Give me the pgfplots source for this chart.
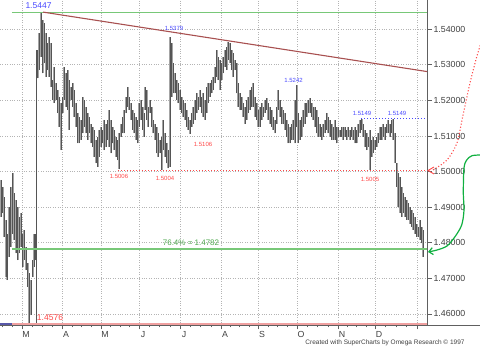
\documentclass[border=0pt]{standalone}
\usepackage{fontspec}
\setmainfont{Liberation Sans}
\usepackage{pgfplots}
\pgfplotsset{compat=1.18}
\usepackage{pgfplotstable}
\usetikzlibrary{arrows.meta}
\definecolor{bardark}{HTML}{555555}
\definecolor{barlight}{HTML}{A4A4A4}
\definecolor{gridgray}{HTML}{B4B4B4}
\definecolor{axgray}{HTML}{606060}
\definecolor{labgray}{HTML}{404040}
\definecolor{lgreen}{HTML}{78C878}
\definecolor{pinkline}{HTML}{F0A0A0}
\definecolor{trend}{HTML}{A85050}
\definecolor{lblue}{HTML}{4848FF}
\definecolor{bluelow}{HTML}{5858A8}
\definecolor{lred}{HTML}{FF4848}
\definecolor{tgreen}{HTML}{50A850}
\definecolor{agreen}{HTML}{10B040}
\pgfplotstableread{
x lo hi
1 1.4873 1.4976
2.7 1.4883 1.4957
4 1.4817 1.4929
6 1.4705 1.4864
7.3 1.4695 1.4826
9 1.4761 1.4901
10.7 1.4789 1.4957
12.7 1.4826 1.4995
14.3 1.4808 1.4939
16 1.4770 1.4920
17.7 1.4751 1.4901
19.3 1.4770 1.4873
21 1.4789 1.4883
22.7 1.4733 1.4826
24.3 1.4751 1.4836
26 1.4723 1.4789
27.7 1.4677 1.4742
29.3 1.4573 1.4714
31 1.4597 1.4695
32.7 1.4705 1.4751
34.3 1.4733 1.4826
35.5 1.4751 1.4826
37.7 1.5262 1.5342
39.3 1.5285 1.5388
41 1.5323 1.5446
42.7 1.5276 1.5426
44.3 1.5304 1.5416
46 1.5267 1.5388
47.7 1.5285 1.5360
49.3 1.5267 1.5379
51 1.5238 1.5360
52.7 1.5201 1.5257
54.3 1.5192 1.5295
56 1.5201 1.5248
57.7 1.5164 1.5229
59.3 1.5126 1.5210
61 1.5060 1.5192
62.7 1.5164 1.5210
64.3 1.5201 1.5295
66 1.5182 1.5276
67.7 1.5173 1.5285
69.3 1.5117 1.5257
71 1.5201 1.5238
72.7 1.5182 1.5248
74.3 1.5154 1.5229
76 1.5126 1.5192
77.7 1.5079 1.5164
79.3 1.5079 1.5154
81 1.5089 1.5145
82.7 1.5107 1.5210
84.3 1.5126 1.5201
86 1.5107 1.5182
87.7 1.5089 1.5164
89.3 1.5107 1.5154
91 1.5079 1.5135
92.7 1.5070 1.5126
94.3 1.5042 1.5117
96 1.5023 1.5089
97.7 1.5014 1.5098
99.3 1.5042 1.5117
101 1.5070 1.5126
102.7 1.5079 1.5117
104.3 1.5060 1.5145
106 1.5070 1.5135
107.7 1.5089 1.5145
109.3 1.5070 1.5173
111 1.5051 1.5145
112.7 1.5079 1.5126
114.3 1.5060 1.5117
116 1.5042 1.5098
117.7 1.5032 1.5089
119.3 1.5006 1.5107
121 1.5098 1.5135
122.7 1.5107 1.5154
124.3 1.5107 1.5173
126 1.5164 1.5210
127.7 1.5182 1.5238
129.3 1.5173 1.5210
131 1.5145 1.5192
132.7 1.5117 1.5173
134.3 1.5107 1.5164
136 1.5089 1.5154
137.7 1.5079 1.5145
139.3 1.5126 1.5192
141 1.5145 1.5201
142.7 1.5117 1.5182
144.3 1.5098 1.5164
145 1.5173 1.5238
146.7 1.5145 1.5229
148.3 1.5126 1.5182
150 1.5164 1.5201
151.7 1.5126 1.5182
153.3 1.5107 1.5145
155 1.5089 1.5135
156.7 1.5051 1.5126
158.3 1.5042 1.5107
160 1.5051 1.5089
161.7 1.5004 1.5098
163.3 1.5060 1.5145
165 1.5042 1.5107
166.7 1.5023 1.5079
168.3 1.5009 1.5060
170 1.5014 1.5379
171.7 1.5210 1.5360
173.3 1.5220 1.5304
175 1.5220 1.5276
176.7 1.5201 1.5257
178.3 1.5192 1.5248
180 1.5173 1.5229
181.7 1.5164 1.5210
183.3 1.5154 1.5201
185 1.5145 1.5192
186.7 1.5126 1.5173
188.3 1.5117 1.5154
190 1.5106 1.5145
191.7 1.5126 1.5164
193.3 1.5135 1.5182
195 1.5145 1.5201
196.7 1.5164 1.5220
198.3 1.5173 1.5210
200 1.5182 1.5229
201.7 1.5164 1.5210
203.3 1.5154 1.5220
205 1.5145 1.5201
206.7 1.5164 1.5238
208.3 1.5192 1.5248
210 1.5210 1.5248
211.7 1.5220 1.5257
213.3 1.5229 1.5267
215 1.5248 1.5295
216.7 1.5267 1.5342
218.3 1.5257 1.5323
220 1.5229 1.5313
221.7 1.5257 1.5304
223.3 1.5276 1.5323
225 1.5295 1.5342
226.7 1.5285 1.5351
228.3 1.5313 1.5364
230 1.5304 1.5360
231.7 1.5285 1.5342
233.3 1.5267 1.5332
235 1.5285 1.5313
236.7 1.5220 1.5304
238.3 1.5182 1.5248
240 1.5173 1.5220
241.7 1.5173 1.5210
243.3 1.5154 1.5192
245 1.5135 1.5182
246.7 1.5145 1.5201
248.3 1.5164 1.5210
250 1.5173 1.5229
251.7 1.5182 1.5238
253.3 1.5182 1.5248
255 1.5154 1.5210
256.7 1.5145 1.5192
258.3 1.5126 1.5173
260 1.5126 1.5182
261.7 1.5145 1.5192
263.3 1.5154 1.5182
265 1.5164 1.5201
266.7 1.5173 1.5206
268.3 1.5145 1.5192
270 1.5135 1.5182
271.7 1.5126 1.5173
273.3 1.5117 1.5154
275 1.5107 1.5145
276.7 1.5135 1.5182
278.3 1.5173 1.5229
280 1.5154 1.5201
281.7 1.5135 1.5182
283.3 1.5135 1.5173
285 1.5117 1.5164
286.7 1.5098 1.5145
288.3 1.5079 1.5135
290 1.5079 1.5126
291.7 1.5089 1.5135
293.3 1.5089 1.5145
295 1.5079 1.5201
296.7 1.5126 1.5243
298.3 1.5079 1.5164
300 1.5089 1.5145
301.7 1.5098 1.5154
303.3 1.5126 1.5173
305 1.5135 1.5192
306.7 1.5154 1.5192
308.3 1.5164 1.5201
310 1.5164 1.5206
311.7 1.5154 1.5192
313.3 1.5145 1.5182
315 1.5126 1.5182
316.7 1.5107 1.5173
318.3 1.5098 1.5154
320 1.5098 1.5135
321.7 1.5089 1.5126
323.3 1.5098 1.5135
325 1.5107 1.5145
326.7 1.5117 1.5164
328.3 1.5107 1.5154
330 1.5098 1.5145
331.7 1.5089 1.5135
333.3 1.5089 1.5126
335 1.5089 1.5145
336.7 1.5079 1.5126
338.3 1.5098 1.5126
340 1.5098 1.5117
341.7 1.5098 1.5126
343.3 1.5089 1.5126
345 1.5098 1.5126
346.7 1.5089 1.5117
348.3 1.5098 1.5126
350 1.5089 1.5117
351.7 1.5098 1.5126
353.3 1.5089 1.5117
355 1.5079 1.5126
356.7 1.5079 1.5117
358.3 1.5098 1.5135
360 1.5107 1.5145
361.7 1.5117 1.5149
363.3 1.5098 1.5135
365 1.5070 1.5117
366.7 1.5060 1.5107
368.3 1.5070 1.5098
370 1.5005 1.5117
371.7 1.5042 1.5089
373.3 1.5051 1.5098
375 1.5060 1.5089
376.7 1.5070 1.5098
378.3 1.5079 1.5107
380 1.5089 1.5126
381.7 1.5089 1.5126
383.3 1.5098 1.5135
385 1.5089 1.5126
386.7 1.5107 1.5135
388.3 1.5107 1.5145
390 1.5098 1.5135
391.7 1.5107 1.5145
393.3 1.5089 1.5149
395 1.5023 1.5107
396.7 1.4957 1.5023
398.3 1.4901 1.4995
400 1.4883 1.4986
401.7 1.4873 1.4957
403.3 1.4883 1.4939
405 1.4873 1.4929
406.7 1.4864 1.4920
408.3 1.4864 1.4911
410 1.4854 1.4901
411.7 1.4845 1.4892
413.3 1.4836 1.4883
415 1.4826 1.4873
416.7 1.4817 1.4854
418.3 1.4817 1.4845
420 1.4808 1.4864
421.7 1.4798 1.4845
423.3 1.4761 1.4836
}\bars
\begin{document}
\begin{tikzpicture}
\useasboundingbox (0pt,0pt) rectangle (480pt,351pt);
\begin{axis}[
  at={(0pt,26pt)}, anchor=south west,
  scale only axis, width=427pt, height=325pt,
  xmin=0, xmax=427, ymin=1.4569, ymax=1.5482,
  axis x line*=bottom, axis y line*=right,
  axis line style={draw=axgray, line width=0.8pt},
  tick align=outside,
  major tick length=4.5pt, minor tick length=2.5pt,
  tick style={draw=axgray, line width=0.6pt},
  xtick={22,62,101,139,180,221,258,297,338,375,417},
  xticklabels={M,A,M,J,J,A,S,O,N,D,{}},
  minor xtick={2,12,32,42,52,72,81.5,91,110.5,120,129.5,149,159.5,170,190,200.5,211,230,239.5,249,268,277.5,287,307,317.5,328,347,356.5,366,385.5,396,406.5},
  ytick={1.46,1.47,1.48,1.49,1.50,1.51,1.52,1.53,1.54},
  scaled y ticks=false,
  yticklabel style={xshift=-1.5pt, /pgf/number format/fixed, /pgf/number format/fixed zerofill, /pgf/number format/precision=5, /pgf/number format/assume math mode=true},
  ticklabel style={font=\fontsize{8.8}{9}\selectfont, text=labgray},
  xticklabel style={xshift=4pt, yshift=2pt},
  grid=major,
  major grid style={draw=gridgray, dotted, line width=0.7pt},
  clip=true,
]
% bars
\addplot[draw=none, mark=none, forget plot,
  error bars/.cd, y dir=plus, y explicit, error mark=none,
  error bar style={draw=barlight, line width=1.9pt, line cap=butt}]
  table[x=x, y=lo, y error plus expr=\thisrow{hi}-\thisrow{lo}] {\bars};
\addplot[draw=none, mark=none, forget plot,
  error bars/.cd, y dir=plus, y explicit, error mark=none,
  error bar style={draw=bardark, line width=0.65pt, line cap=butt}]
  table[x=x, y=lo, y error plus expr=\thisrow{hi}-\thisrow{lo}] {\bars};
% vertical separator
\addplot[bardark, line width=0.9pt, mark=none, forget plot] coordinates {(36.7,1.4569) (36.7,1.5342)};
% horizontal levels
\addplot[lgreen, line width=1.8pt, mark=none, forget plot] coordinates {(12,1.5447) (427,1.5447)};
\addplot[lgreen, line width=1.8pt, mark=none, forget plot] coordinates {(12,1.4782) (427,1.4782)};
\addplot[pinkline, line width=1.6pt, mark=none, forget plot] coordinates {(12,1.4571) (427,1.4571)};
\addplot[bluelow, line width=1.6pt, mark=none, forget plot] coordinates {(0,1.4571) (12,1.4571)};
\addplot[trend, line width=1.1pt, mark=none, forget plot] coordinates {(43,1.5448) (427,1.5281)};
\addplot[lred, dotted, line width=1pt, mark=none, forget plot] coordinates {(118,1.5004) (427,1.5004)};
\addplot[lblue, dotted, line width=1pt, mark=none, forget plot] coordinates {(361,1.5149) (427,1.5149)};
% labels
\node[text=lblue, font=\fontsize{8.5}{9}\selectfont] at (axis cs:38.5,1.5465) {1.5447};
\node[text=lblue, font=\fontsize{6}{7}\selectfont] at (axis cs:174,1.5403) {1.5379};
\node[text=lblue, font=\fontsize{6}{7}\selectfont] at (axis cs:293.5,1.5257) {1.5242};
\node[text=lblue, font=\fontsize{6}{7}\selectfont] at (axis cs:362,1.5164) {1.5149};
\node[text=lblue, font=\fontsize{6}{7}\selectfont] at (axis cs:397,1.5164) {1.5149};
\node[text=lred, font=\fontsize{6}{7}\selectfont] at (axis cs:119,1.4987) {1.5006};
\node[text=lred, font=\fontsize{6}{7}\selectfont] at (axis cs:165,1.4982) {1.5004};
\node[text=lred, font=\fontsize{6}{7}\selectfont] at (axis cs:203,1.5077) {1.5106};
\node[text=lred, font=\fontsize{6}{7}\selectfont] at (axis cs:370,1.4979) {1.5005};
\node[text=lred, font=\fontsize{8.5}{9}\selectfont] at (axis cs:50,1.4591) {1.4576};
\node[text=tgreen, font=\fontsize{8}{9}\selectfont] at (axis cs:191,1.4799) {76.4\% = 1.4782};
\end{axis}
\draw[axgray, line width=0.8pt] (427pt,26pt) -- (480pt,26pt);
% red dotted arrow
\draw[lred, dotted, line width=1.1pt] plot[smooth] coordinates {(433pt,181pt) (447pt,191pt) (457pt,208pt) (462pt,231pt) (470pt,268pt) (476.7pt,294pt) (482pt,311pt)};
\draw[lred, line width=0.9pt] (434pt,177pt) -- (428pt,180.5pt) -- (434pt,184pt);
% green arrow
\draw[agreen, line width=1.2pt, -{Straight Barb[length=4pt,width=7pt]}] plot[smooth] coordinates {(481pt,196pt) (472pt,195.3pt) (466.7pt,191pt) (464pt,183pt) (463.3pt,158pt) (464pt,141pt) (461.7pt,126pt) (455pt,114.3pt) (447pt,105pt) (437pt,101pt) (428pt,99pt)};
\node[text=labgray, font=\fontsize{6.5}{7}\selectfont] at (385pt,8pt) {Created with SuperCharts by Omega Research \textcopyright{} 1997};
\end{tikzpicture}
\end{document}
